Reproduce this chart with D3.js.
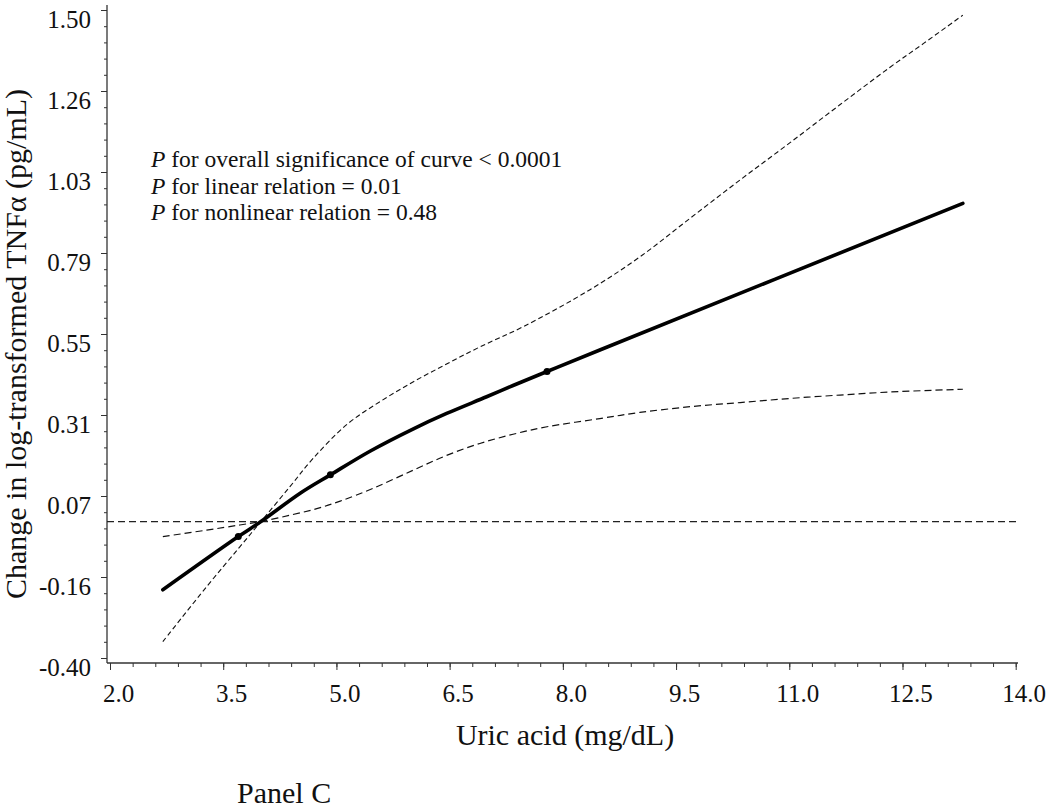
<!DOCTYPE html>
<html lang="en">
<head>
    <meta charset="UTF-8">
    <title>Uric acid vs change in log-transformed TNFα</title>
    <style>
        body{
            margin: 0;
            background: #fff;
        }
        svg{
            display: block;
            font-family: "Liberation Serif", "Times New Roman", serif;
        }
        .tick text{
            font-family: "Liberation Serif", "Times New Roman", serif;
        }
    </style>
    <script src="https://cdn.jsdelivr.net/npm/d3@7"></script>
</head>
<body>
<svg id="svg_main"></svg>
<script>
    // values
    const estX = [2.70, 3.70, 4.00, 4.52, 4.92, 5.45, 6.02, 6.46, 6.99, 7.34, 7.79, 8.49, 13.30];
    const estY = [-0.200, -0.044, 0.000, 0.083, 0.137, 0.207, 0.272, 0.317, 0.366, 0.399, 0.440, 0.503, 0.933];

    const upperX = [2.70, 3.28, 3.72, 4.00, 4.39, 4.69, 5.14, 5.58, 6.02, 6.46, 6.90, 7.48, 8.36, 9.02, 9.69, 10.35, 11.01, 11.67, 12.34, 12.78, 13.30];
    const upperY = [-0.352, -0.191, -0.074, 0.000, 0.104, 0.185, 0.285, 0.352, 0.410, 0.462, 0.512, 0.572, 0.680, 0.776, 0.890, 1.002, 1.111, 1.222, 1.333, 1.402, 1.485];

    const lowerX = [2.70, 3.28, 3.72, 4.00, 4.39, 4.74, 5.05, 5.49, 6.02, 6.46, 6.90, 7.34, 7.79, 8.49, 9.02, 9.69, 10.35, 11.01, 11.67, 12.34, 13.30];
    const lowerY = [-0.044, -0.025, -0.010, 0.000, 0.019, 0.038, 0.060, 0.098, 0.151, 0.194, 0.229, 0.256, 0.278, 0.302, 0.320, 0.337, 0.349, 0.361, 0.371, 0.380, 0.388];

    // spline knots shown as small dots on the estimate
    const knotX = [3.70, 4.92, 7.79];
    const knotY = [-0.044, 0.137, 0.440];

    const xTicks = [2.0, 3.5, 5.0, 6.5, 8.0, 9.5, 11.0, 12.5, 14.0];
    const yTicks = [-0.40, -0.1625, 0.075, 0.3125, 0.55, 0.7875, 1.025, 1.2625, 1.50];
    const yTickLabels = ["-0.40", "-0.16", "0.07", "0.31", "0.55", "0.79", "1.03", "1.26", "1.50"];

    const notes = [
        ["P", " for overall significance of curve < 0.0001"],
        ["P", " for linear relation = 0.01"],
        ["P", " for nonlinear relation = 0.48"]
    ];

    const width = 1050;
    const height = 811;

    let svg = d3.select('#svg_main').attr('width', width).attr('height', height);

    let xScale = d3.scaleLinear().domain([2, 14]).range([110, 1015.7]);
    let yScale = d3.scaleLinear().domain([-0.40, 1.50]).range([658, 10]);

    const axisX = 107, axisY = 663;

    // minor ticks
    let xMinor = d3.range(2, 14.001, 0.3);
    let yMinor = d3.range(-0.40, 1.5001, 0.2375 / 5);

    svg.append("g")
        .attr("transform", `translate(0,${axisY})`)
        .call(d3.axisBottom(xScale).tickValues(xMinor).tickSize(4).tickFormat(""))
        .call(g => g.select(".domain").remove())
        .selectAll("line").attr("stroke", "#333");

    svg.append("g")
        .attr("transform", `translate(${axisX},0)`)
        .call(d3.axisLeft(yScale).tickValues(yMinor).tickSize(3).tickFormat(""))
        .call(g => g.select(".domain").remove())
        .selectAll("line").attr("stroke", "#333");

    // major ticks + labels
    let gx = svg.append("g")
        .attr("transform", `translate(0,${axisY})`)
        .call(d3.axisBottom(xScale).tickValues(xTicks).tickSize(7).tickFormat(d3.format(".1f")));
    gx.select(".domain").remove();
    gx.selectAll("line").attr("stroke", "#333");
    gx.selectAll("text")
        .attr("x", 8).attr("y", 39).attr("dy", null)
        .attr("font-size", 25).attr("fill", "#111");

    let gy = svg.append("g")
        .attr("transform", `translate(${axisX},0)`)
        .call(d3.axisLeft(yScale).tickValues(yTicks).tickSize(6).tickFormat((d, i) => yTickLabels[i]));
    gy.select(".domain").remove();
    gy.selectAll("line").attr("stroke", "#333");
    gy.selectAll("text")
        .attr("x", -16).attr("y", 17).attr("dy", null)
        .attr("font-size", 25).attr("fill", "#111");

    // axis lines
    svg.append("line")
        .attr("x1", axisX).attr("x2", axisX).attr("y1", 5).attr("y2", axisY)
        .attr("stroke", "#333").attr("stroke-width", 1.3);
    svg.append("line")
        .attr("x1", axisX).attr("x2", 1018).attr("y1", axisY).attr("y2", axisY)
        .attr("stroke", "#333").attr("stroke-width", 1.3);

    // reference line at zero
    svg.append("line")
        .attr("x1", axisX).attr("x2", 1017)
        .attr("y1", yScale(0)).attr("y2", yScale(0))
        .attr("stroke", "#222").attr("stroke-width", 1.1)
        .attr("stroke-dasharray", "7,4");

    let line = d3.line()
        .x(d => xScale(d[0]))
        .y(d => yScale(d[1]))
        .curve(d3.curveCatmullRom.alpha(0.5));

    let plot = svg.append("g");

    plot.append("path")
        .datum(d3.zip(upperX, upperY))
        .attr("d", line)
        .attr("fill", "none").attr("stroke", "#111")
        .attr("stroke-width", 1.1).attr("stroke-dasharray", "5,3");

    plot.append("path")
        .datum(d3.zip(lowerX, lowerY))
        .attr("d", line)
        .attr("fill", "none").attr("stroke", "#111")
        .attr("stroke-width", 1.2).attr("stroke-dasharray", "7,4");

    plot.append("path")
        .datum(d3.zip(estX, estY))
        .attr("d", line)
        .attr("fill", "none").attr("stroke", "#000")
        .attr("stroke-width", 3.6).attr("stroke-linecap", "round");

    plot.selectAll("circle")
        .data(d3.zip(knotX, knotY))
        .enter().append("circle")
        .attr("cx", d => xScale(d[0]))
        .attr("cy", d => yScale(d[1]))
        .attr("r", 3.5)
        .attr("fill", "#000");

    // annotation
    let note = svg.append("text")
        .attr("font-size", 23.5).attr("fill", "#111");
    notes.forEach((n, i) => {
        let t = note.append("tspan").attr("x", 151).attr("y", 167 + i * 26.7);
        t.text(n[0]).attr("font-style", "italic");
        note.append("tspan").text(n[1]);
    });

    // axis titles
    svg.append("text")
        .attr("x", 565).attr("y", 745)
        .attr("text-anchor", "middle")
        .attr("font-size", 30).attr("fill", "#111")
        .text("Uric acid (mg/dL)");

    svg.append("text")
        .attr("transform", "translate(26,344) rotate(-90)")
        .attr("text-anchor", "middle")
        .attr("font-size", 30).attr("fill", "#111")
        .text("Change in log-transformed TNFα (pg/mL)");

    svg.append("text")
        .attr("x", 237).attr("y", 803)
        .attr("font-size", 30).attr("fill", "#111")
        .text("Panel C");
</script>
</body>
</html>
